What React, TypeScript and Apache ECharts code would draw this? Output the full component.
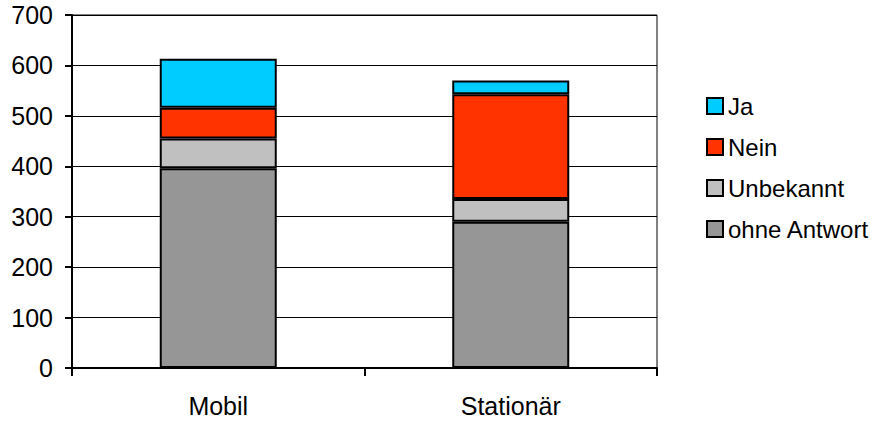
import React, { useEffect, useRef } from "react";
import * as echarts from "echarts";

// Categories on the x axis
const categories = ["Mobil", "Stationär"];

// Stacked segment values per category (bottom to top)
const ohneAntwort = [396, 290];
const unbekannt = [59, 45];
const nein = [61, 208];
const ja = [97, 27];

// Y axis range
const yMin = 0;
const yMax = 700;
const yStep = 100;

const FONT = "'Liberation Sans', Arial, sans-serif";

export default function App() {
  const ref = useRef<HTMLDivElement>(null);

  useEffect(() => {
    if (!ref.current) return;
    const chart = echarts.init(ref.current, null, { renderer: "svg" });

    const seriesDefs = [
      { name: "ohne Antwort", data: ohneAntwort, color: "#969696" },
      { name: "Unbekannt", data: unbekannt, color: "#C0C0C0" },
      { name: "Nein", data: nein, color: "#FF3300" },
      { name: "Ja", data: ja, color: "#00CCFF" },
    ];

    chart.setOption({
      animation: false,
      backgroundColor: "#ffffff",
      textStyle: { fontFamily: FONT, color: "#000" },
      grid: {
        left: 72,
        right: 216,
        top: 15,
        bottom: 53,
        containLabel: false,
        outerBoundsMode: "none",
        show: true,
        borderColor: "#000",
        borderWidth: 1,
        backgroundColor: "transparent",
      },
      legend: {
        orient: "vertical",
        left: 701,
        top: 89,
        itemWidth: 16,
        itemHeight: 16,
        itemGap: 17,
        icon: "rect",
        data: ["Ja", "Nein", "Unbekannt", "ohne Antwort"],
        itemStyle: { borderColor: "#000", borderWidth: 2 },
        textStyle: { fontFamily: FONT, fontSize: 24, color: "#000", overflow: "none" },
      },
      xAxis: {
        type: "category",
        data: categories,
        boundaryGap: true,
        axisLine: { show: true, lineStyle: { color: "#000", width: 2 } },
        axisTick: { show: true, length: 8, inside: false, lineStyle: { color: "#000", width: 2 } },
        axisLabel: { fontFamily: FONT, fontSize: 25, color: "#000", margin: 25 },
        splitLine: { show: false },
      },
      yAxis: {
        type: "value",
        min: yMin,
        max: yMax,
        interval: yStep,
        axisLine: { show: true, lineStyle: { color: "#000", width: 2 } },
        axisTick: { show: true, length: 7, lineStyle: { color: "#000", width: 2 } },
        axisLabel: { fontFamily: FONT, fontSize: 25, color: "#000", margin: 19 },
        splitLine: { show: true, lineStyle: { color: "#000", width: 1 } },
      },
      series: seriesDefs.map((s) => ({
        name: s.name,
        type: "bar",
        stack: "total",
        barWidth: "40%",
        data: s.data,
        itemStyle: { color: s.color, borderColor: "#000", borderWidth: 2 },
        emphasis: { disabled: true },
      })),
    });

    return () => chart.dispose();
  }, []);

  return (
    <div
      ref={ref}
      style={{ position: "absolute", left: 0, top: 0, width: 873, height: 421 }}
    />
  );
}
